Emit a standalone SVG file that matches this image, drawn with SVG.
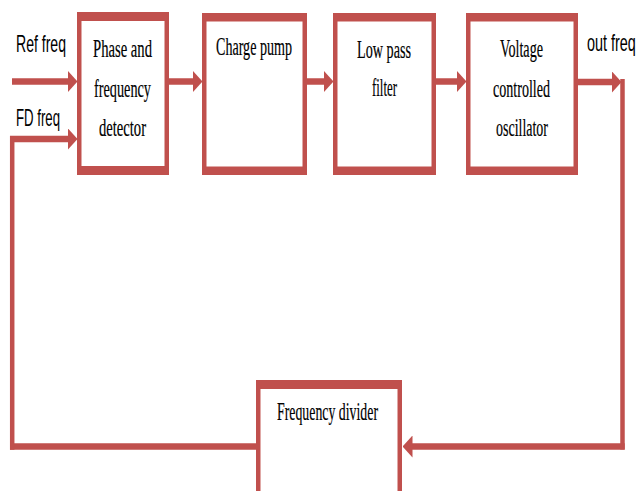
<svg xmlns="http://www.w3.org/2000/svg" width="642" height="491" viewBox="0 0 642 491">
  <style>
    .frame { fill: #C0504D; }
    .inner { fill: #FFFFFF; }
    .lbl { font-family: "Liberation Serif", "Times New Roman", serif; font-size: 25px; fill: #000; stroke: #000; stroke-width: 0.2; }
    .sig { font-family: "Liberation Sans", Arial, sans-serif; font-size: 24px; fill: #000; }
    .h { stroke: #C0504D; stroke-width: 6.5; fill: none; }
    .v { stroke: #C0504D; stroke-width: 4.5; fill: none; }
  </style>
  <defs>
    <marker id="arr" markerUnits="userSpaceOnUse" viewBox="0 0 10 22" refX="0.5" refY="11" markerWidth="10" markerHeight="22" orient="auto">
      <path d="M0,0 L10,11 L0,22 Z" fill="#C0504D"/>
    </marker>
  </defs>
  <rect width="642" height="491" fill="#FFFFFF"/>

  <g id="connectors">
    <!-- Ref freq input -->
    <path class="h" d="M12,81.5 H68" marker-end="url(#arr)"/>
    <!-- PFD -> Charge pump -->
    <path class="h" d="M169,81.5 H193" marker-end="url(#arr)"/>
    <!-- Charge pump -> LPF -->
    <path class="h" d="M307,81.5 H324" marker-end="url(#arr)"/>
    <!-- LPF -> VCO -->
    <path class="h" d="M436,81.5 H457" marker-end="url(#arr)"/>
    <!-- VCO -> out -->
    <path class="h" d="M578,82 H612" marker-end="url(#arr)"/>
    <!-- right vertical down -->
    <path class="v" d="M622.5,79 V449.5"/>
    <!-- bottom right to divider -->
    <path class="h" d="M624.7,446.5 H412" marker-end="url(#arr)"/>
    <!-- divider to left -->
    <path class="h" d="M257,446.5 H10"/>
    <!-- left vertical up -->
    <path class="v" d="M12.2,449.7 V136"/>
    <!-- FD freq into PFD -->
    <path class="h" d="M10,139 H68" marker-end="url(#arr)"/>
  </g>

  <g id="pfd">
    <rect class="frame" x="77" y="12" width="92" height="163"/>
    <rect class="inner" x="81.5" y="21" width="83" height="145"/>
    <text class="lbl" x="93" y="57" textLength="59" lengthAdjust="spacingAndGlyphs">Phase and</text>
    <text class="lbl" x="94" y="97" textLength="57" lengthAdjust="spacingAndGlyphs">frequency</text>
    <text class="lbl" x="99" y="136" textLength="47" lengthAdjust="spacingAndGlyphs">detector</text>
  </g>

  <g id="charge-pump">
    <rect class="frame" x="202" y="13" width="105" height="162"/>
    <rect class="inner" x="206.5" y="21.5" width="96" height="145"/>
    <text class="lbl" x="216" y="55" textLength="76" lengthAdjust="spacingAndGlyphs">Charge pump</text>
  </g>

  <g id="low-pass-filter">
    <rect class="frame" x="333" y="13" width="103" height="162"/>
    <rect class="inner" x="337.5" y="21.5" width="94" height="145"/>
    <text class="lbl" x="357" y="58" textLength="54" lengthAdjust="spacingAndGlyphs">Low pass</text>
    <text class="lbl" x="372" y="96" textLength="25" lengthAdjust="spacingAndGlyphs">filter</text>
  </g>

  <g id="vco">
    <rect class="frame" x="466" y="13" width="112" height="162"/>
    <rect class="inner" x="470.5" y="21.5" width="103" height="145"/>
    <text class="lbl" x="500" y="57" textLength="43" lengthAdjust="spacingAndGlyphs">Voltage</text>
    <text class="lbl" x="493" y="97" textLength="57" lengthAdjust="spacingAndGlyphs">controlled</text>
    <text class="lbl" x="496" y="136" textLength="52" lengthAdjust="spacingAndGlyphs">oscillator</text>
  </g>

  <g id="frequency-divider">
    <rect class="frame" x="256" y="380" width="146" height="130"/>
    <rect class="inner" x="260.5" y="389" width="137" height="125"/>
    <text class="lbl" x="277" y="420" textLength="101" lengthAdjust="spacingAndGlyphs">Frequency divider</text>
  </g>

  <g id="signal-labels">
    <text class="sig" x="16" y="52" textLength="50" lengthAdjust="spacingAndGlyphs">Ref freq</text>
    <text class="sig" x="16" y="126" textLength="44" lengthAdjust="spacingAndGlyphs">FD freq</text>
    <text class="sig" transform="translate(587,51) scale(0.6,1)" x="0" y="0">out freq</text>
  </g>
</svg>
